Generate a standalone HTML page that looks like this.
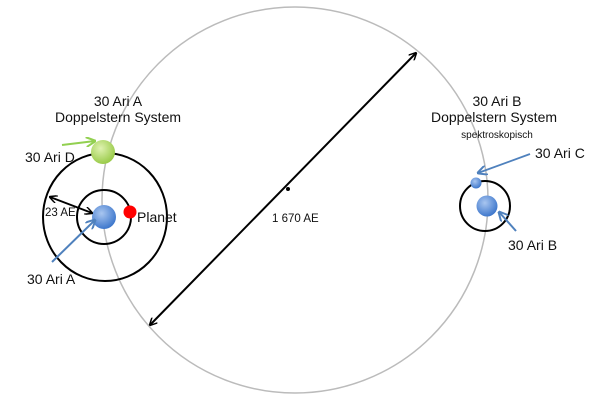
<!DOCTYPE html>
<html><head><style>body{margin:0;background:#fff}svg{display:block}text{font-family:"Liberation Sans",sans-serif;fill:#111}</style></head><body>
<svg width="600" height="403" viewBox="0 0 600 403">
<defs>
<marker id="ak" markerWidth="8" markerHeight="8" refX="7" refY="4" orient="auto-start-reverse" markerUnits="userSpaceOnUse"><path d="M0,0 L8,4 L0,8" fill="none" stroke="#000" stroke-width="1.5"/></marker>
<marker id="ab" markerWidth="10" markerHeight="10" refX="9" refY="5" orient="auto" markerUnits="userSpaceOnUse"><path d="M0,0 L10,5 L0,10" fill="none" stroke="#4f81bd" stroke-width="2"/></marker>
<marker id="ag" markerWidth="10" markerHeight="10" refX="9" refY="5" orient="auto" markerUnits="userSpaceOnUse"><path d="M0,0 L10,5 L0,10" fill="none" stroke="#92d050" stroke-width="2"/></marker>
<radialGradient id="gb" cx="40%" cy="35%" r="65%"><stop offset="0" stop-color="#a9c6f0"/><stop offset="1" stop-color="#3f78cc"/></radialGradient>
<radialGradient id="gg" cx="40%" cy="35%" r="65%"><stop offset="0" stop-color="#dff2b0"/><stop offset="1" stop-color="#9acb4a"/></radialGradient>
</defs>
<circle cx="295" cy="200" r="193" fill="none" stroke="#bbb" stroke-width="1.5"/>
<circle cx="288" cy="189" r="2" fill="#000"/>
<line x1="150" y1="325" x2="416" y2="53" stroke="#000" stroke-width="2" marker-start="url(#ak)" marker-end="url(#ak)"/>
<text x="272" y="222" font-size="11.5">1 670 AE</text>
<ellipse cx="105" cy="217" rx="62" ry="64" fill="none" stroke="#000" stroke-width="2"/>
<circle cx="104" cy="217" r="27" fill="none" stroke="#000" stroke-width="2"/>
<circle cx="104" cy="217" r="12" fill="url(#gb)"/>
<circle cx="103" cy="152" r="12" fill="url(#gg)"/>
<circle cx="130" cy="212" r="6.5" fill="#f00"/>
<line x1="62" y1="145" x2="95" y2="141" stroke="#92d050" stroke-width="2" marker-end="url(#ag)"/>
<line x1="50" y1="197" x2="92" y2="213" stroke="#000" stroke-width="1.8" marker-start="url(#ak)" marker-end="url(#ak)"/>
<line x1="52" y1="262" x2="95" y2="220" stroke="#4f81bd" stroke-width="2" marker-end="url(#ab)"/>
<text x="118" y="106" font-size="14" text-anchor="middle">30 Ari A</text>
<text x="118" y="122" font-size="14" text-anchor="middle">Doppelstern System</text>
<text x="25" y="162" font-size="14">30 Ari D</text>
<text x="45" y="216" font-size="11.5">23 AE</text>
<text x="137" y="222" font-size="14">Planet</text>
<text x="27" y="284" font-size="14">30 Ari A</text>
<circle cx="485" cy="206" r="25" fill="none" stroke="#000" stroke-width="2"/>
<circle cx="487" cy="206" r="10.5" fill="url(#gb)"/>
<circle cx="476" cy="183" r="5.5" fill="url(#gb)"/>
<line x1="530" y1="154" x2="478" y2="173" stroke="#4f81bd" stroke-width="1.8" marker-end="url(#ab)"/>
<line x1="516" y1="231" x2="499" y2="212" stroke="#4f81bd" stroke-width="2" marker-end="url(#ab)"/>
<text x="497" y="106" font-size="14" text-anchor="middle">30 Ari B</text>
<text x="494" y="122" font-size="14" text-anchor="middle">Doppelstern System</text>
<text x="497" y="138" font-size="10" text-anchor="middle">spektroskopisch</text>
<text x="535" y="158" font-size="14">30 Ari C</text>
<text x="508" y="250" font-size="14">30 Ari B</text>
</svg>
</body></html>
